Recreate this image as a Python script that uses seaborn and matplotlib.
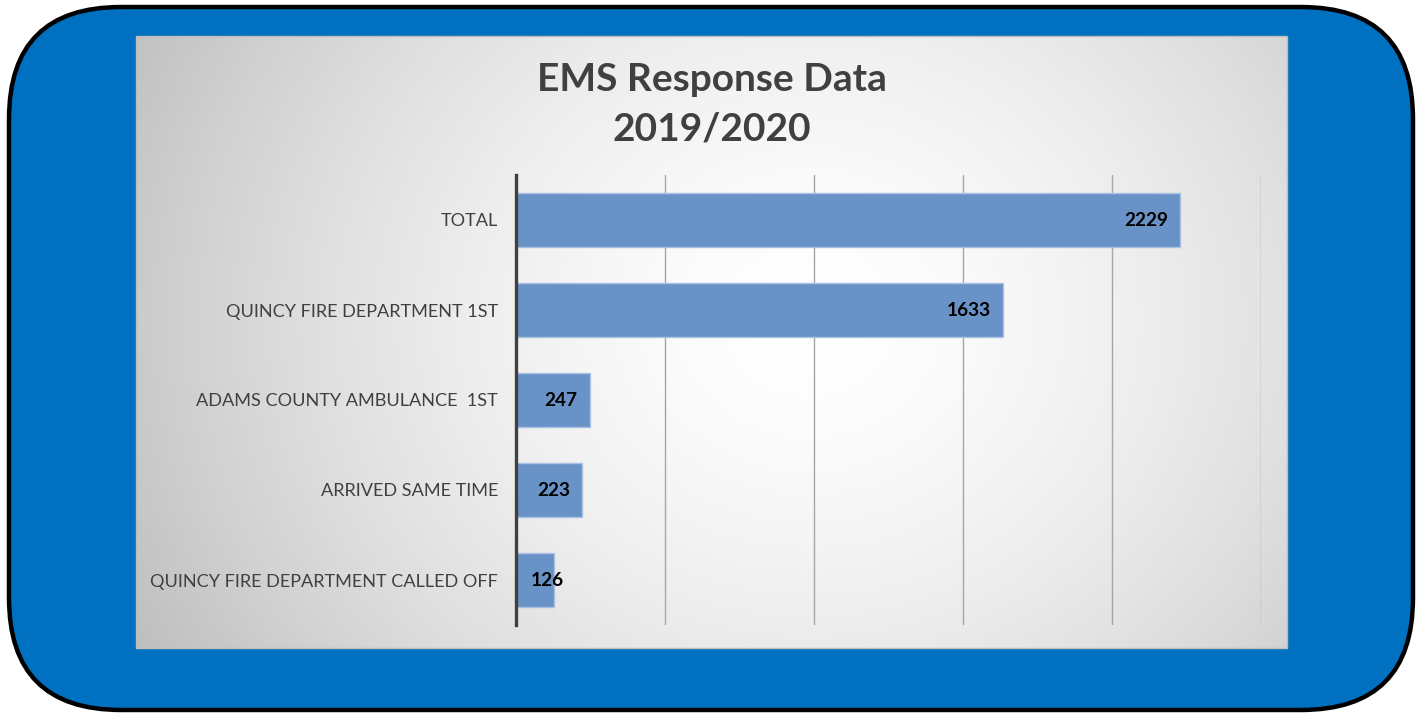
import numpy as np
import pandas as pd
import matplotlib
matplotlib.use("Agg")
import matplotlib.pyplot as plt
from matplotlib.patches import FancyBboxPatch, Rectangle
import seaborn as sns

# ---- data ----
categories = ["TOTAL", "QUINCY FIRE DEPARTMENT 1ST", "ADAMS COUNTY AMBULANCE  1ST",
              "ARRIVED SAME TIME", "QUINCY FIRE DEPARTMENT CALLED OFF"]
values = [2229, 1633, 247, 223, 126]
grid_ticks = [0, 500, 1000, 1500, 2000, 2500]
title_text = "EMS Response Data\n2019/2020"

sns.set_style("white")
plt.rcParams["font.family"] = ["Lato", "DejaVu Sans"]

W, H = 1423, 715
fig = plt.figure(figsize=(W / 100, H / 100), dpi=100)
fig.patch.set_facecolor("white")

# background axes in pixel coordinates
bg = fig.add_axes([0, 0, 1, 1])
bg.set_xlim(0, W)
bg.set_ylim(H, 0)
bg.axis("off")

outer = FancyBboxPatch((9, 7), 1404, 703, boxstyle="round,pad=0,rounding_size=112",
                       facecolor="#0070C0", edgecolor="black", linewidth=3.2)
bg.add_patch(outer)

# radial gradient panel
px0, px1, py0, py1 = 136, 1287, 36, 648
nx, ny = 400, 220
xs = np.linspace(px0, px1, nx)
ys = np.linspace(py0, py1, ny)
X, Y = np.meshgrid(xs, ys)
cx, cy = 810, 320
rx, ry = 780, 700
r = np.sqrt(((X - cx) / rx) ** 2 + ((Y - cy) / ry) ** 2)
r = np.clip(r, 0, 1)
v = 1.0 - (1.0 - 0.74) * r ** 1.6
img = np.dstack([v, v, v])
bg.imshow(img, extent=(px0, px1, py1, py0), aspect="auto", interpolation="bilinear", zorder=2)
bg.add_patch(Rectangle((px0, py0), px1 - px0, py1 - py0, facecolor="none",
                       edgecolor="#bdbdbd", linewidth=1, zorder=3))

bg.text((px0 + px1) / 2, 104, title_text, ha="center", va="center", fontsize=28,
        fontweight="bold", color="#404040", linespacing=1.5, zorder=4)

# main chart axes
ax_l, ax_r, ax_t, ax_b = 516, 1261, 175, 625
ax = fig.add_axes([ax_l / W, 1 - ax_b / H, (ax_r - ax_l) / W, (ax_b - ax_t) / H])
ax.set_facecolor("none")

df = pd.DataFrame({"category": categories, "value": values})
sns.barplot(data=df, x="value", y="category", orient="h", color="#6993c7",
            saturation=1, width=0.6, edgecolor="#a9c2e2", linewidth=1, ax=ax, zorder=3)

ax.set_xlim(grid_ticks[0], grid_ticks[-1])
ax.set_ylim(len(categories) - 0.5, -0.5)
ax.set_xticks(grid_ticks)
ax.set_xticklabels([])
ax.tick_params(axis="x", length=0)
ax.tick_params(axis="y", length=0, pad=13, labelsize=13.1, labelcolor="#404040")
ax.xaxis.grid(True, color="#a6a6a6", linewidth=1)
ax.set_axisbelow(True)
ax.set_xlabel("")
ax.set_ylabel("")
for s in ["top", "right", "bottom"]:
    ax.spines[s].set_visible(False)
ax.spines["left"].set_color("#404040")
ax.spines["left"].set_linewidth(2.4)
ax.spines["left"].set_zorder(5)

span = grid_ticks[-1] - grid_ticks[0]
min_anchor = 60 / (ax_r - ax_l) * span
for i, val in enumerate(values):
    ax.annotate(f"{val}", xy=(max(val, min_anchor), i),
                xytext=(-8.6, 0), textcoords="offset points", ha="right", va="center",
                fontsize=13.7, fontweight="bold", color="black", zorder=6)

fig.savefig("out.png", dpi=100)
